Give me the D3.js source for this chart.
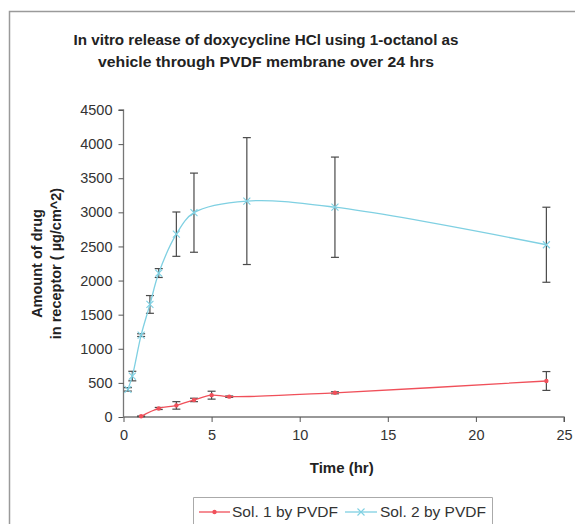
<!DOCTYPE html>
<html>
<head>
<meta charset="utf-8">
<script src="https://cdn.jsdelivr.net/npm/d3@7"></script>
<style>
  html, body { margin: 0; padding: 0; background: #fff; }
  svg { display: block; font-family: "Liberation Sans", Arial, sans-serif; }
</style>
</head>
<body>
<svg id="chart" width="575" height="524"></svg>
<script>
// Release data: time (hr), mean amount (µg/cm^2), standard deviation
const sol1Time = [1, 2, 3, 4, 5, 6, 12, 24];
const sol1Mean = [10, 125, 170, 250, 320, 298, 355, 528];
const sol1Err  = [5, 15, 55, 25, 58, 10, 15, 138];

const sol2Time = [0.25, 0.5, 1, 1.5, 2, 3, 4, 7, 12, 24];
const sol2Mean = [405, 600, 1200, 1650, 2110, 2680, 2995, 3165, 3075, 2525];
const sol2Err  = [25, 70, 20, 130, 65, 325, 580, 930, 735, 550];

const seriesNames = ["Sol. 1 by PVDF", "Sol. 2 by PVDF"];
const xTicks = [0, 5, 10, 15, 20, 25];
const yTicks = [0, 500, 1000, 1500, 2000, 2500, 3000, 3500, 4000, 4500];
const titleLines = [
  "In vitro release of doxycycline HCl using 1-octanol as",
  "vehicle through PVDF membrane over 24 hrs"
];
const yTitleLines = ["Amount of drug", "in receptor ( \u00b5g/cm^2)"];
const xTitle = "Time (hr)";

const svg = d3.select("#chart");
const plot = { left: 123.5, right: 564, top: 110, bottom: 417 };

const x = d3.scaleLinear().domain([0, 25]).range([plot.left, plot.right]);
const y = d3.scaleLinear().domain([0, 4500]).range([plot.bottom, plot.top]);

// outer chart frame (open to the right and bottom)
svg.append("path")
  .attr("d", "M9.5,524 V11.5 H575")
  .attr("fill", "none")
  .attr("stroke", "#9a9a9a")
  .attr("stroke-width", 1.5);

// title
svg.append("g").selectAll("text").data(titleLines).join("text")
  .attr("x", 266)
  .attr("y", (d, i) => 45 + i * 22)
  .attr("text-anchor", "middle")
  .attr("font-size", 15)
  .attr("font-weight", "bold")
  .attr("fill", "#222")
  .attr("textLength", (d, i) => i === 0 ? 385 : 336)
  .attr("lengthAdjust", "spacingAndGlyphs")
  .text(d => d);

// axes
const yAxis = svg.append("g")
  .attr("transform", `translate(${plot.left},0)`)
  .call(d3.axisLeft(y).tickValues(yTicks).tickSize(5).tickPadding(6).tickFormat(d3.format("d")));
const xAxis = svg.append("g")
  .attr("transform", `translate(0,${plot.bottom})`)
  .call(d3.axisBottom(x).tickValues(xTicks).tickSize(5).tickPadding(8).tickFormat(d3.format("d")));

[yAxis, xAxis].forEach(g => {
  g.select(".domain").attr("stroke", "#777").attr("stroke-width", 1.3);
  g.selectAll(".tick line").attr("stroke", "#555");
  g.selectAll(".tick text")
    .attr("font-size", 14.5)
    .attr("fill", "#333")
    .attr("font-family", "Liberation Sans, Arial, sans-serif");
});
yAxis.select(".domain").attr("d", `M-5,${plot.top}H0V${plot.bottom}`);
xAxis.select(".domain").attr("d", `M${plot.left},0H${plot.right}V5`);

// axis titles
svg.append("text")
  .attr("x", x(12.5) - 2)
  .attr("y", 473)
  .attr("text-anchor", "middle")
  .attr("font-size", 15)
  .attr("font-weight", "bold")
  .attr("fill", "#222")
  .text(xTitle);

svg.append("g")
  .attr("transform", `translate(0,${(plot.top + plot.bottom) / 2}) rotate(-90)`)
  .selectAll("text").data(yTitleLines).join("text")
  .attr("x", 0)
  .attr("y", (d, i) => 42 + i * 19)
  .attr("text-anchor", "middle")
  .attr("font-size", 14.5)
  .attr("font-weight", "bold")
  .attr("fill", "#222")
  .text(d => d);

// series
const series = [
  { name: seriesNames[0], t: sol1Time, m: sol1Mean, e: sol1Err, color: "#f0505a", marker: "dot" },
  { name: seriesNames[1], t: sol2Time, m: sol2Mean, e: sol2Err, color: "#7fd0e2", marker: "x" }
];

const line = d3.line().x(d => x(d.t)).y(d => y(d.m)).curve(d3.curveCatmullRom.alpha(0.5));

function drawMarker(g, type, color) {
  if (type === "dot") {
    g.append("circle").attr("r", 2.2).attr("fill", color);
  } else {
    g.append("path").attr("d", "M-3.5,-3.5L3.5,3.5M-3.5,3.5L3.5,-3.5")
      .attr("stroke", color).attr("stroke-width", 1.1).attr("fill", "none");
  }
}

series.forEach(s => {
  const pts = s.t.map((t, i) => ({ t, m: s.m[i], e: s.e[i] }));
  const g = svg.append("g");

  // error bars
  const eb = g.selectAll("g.err").data(pts).join("g").attr("class", "err")
    .attr("stroke", "#4a4a4a").attr("stroke-width", 1.2);
  eb.append("line")
    .attr("x1", d => x(d.t)).attr("x2", d => x(d.t))
    .attr("y1", d => y(d.m - d.e)).attr("y2", d => y(d.m + d.e));
  eb.append("line")
    .attr("x1", d => x(d.t) - 4).attr("x2", d => x(d.t) + 4)
    .attr("y1", d => y(d.m + d.e)).attr("y2", d => y(d.m + d.e));
  eb.append("line")
    .attr("x1", d => x(d.t) - 4).attr("x2", d => x(d.t) + 4)
    .attr("y1", d => y(d.m - d.e)).attr("y2", d => y(d.m - d.e));

  g.append("path").datum(pts)
    .attr("d", line)
    .attr("fill", "none")
    .attr("stroke", s.color)
    .attr("stroke-width", 1.3);

  g.selectAll("g.mk").data(pts).join("g").attr("class", "mk")
    .attr("transform", d => `translate(${x(d.t)},${y(d.m)})`)
    .each(function () { drawMarker(d3.select(this), s.marker, s.color); });
});

// legend
const legend = svg.append("g");
legend.append("path")
  .attr("d", "M193.5,524 V497.5 H492.5 V524")
  .attr("fill", "#fff")
  .attr("stroke", "#aaa")
  .attr("stroke-width", 1);

const legendItems = [
  { s: series[0], x0: 199, x1: 230, tx: 232 },
  { s: series[1], x0: 345, x1: 377, tx: 380 }
];
legendItems.forEach(item => {
  const ly = 512;
  legend.append("line")
    .attr("x1", item.x0).attr("x2", item.x1)
    .attr("y1", ly).attr("y2", ly)
    .attr("stroke", item.s.color).attr("stroke-width", 1.3);
  const mk = legend.append("g").attr("transform", `translate(${(item.x0 + item.x1) / 2},${ly})`);
  drawMarker(mk, item.s.marker, item.s.color);
  legend.append("text")
    .attr("x", item.tx).attr("y", ly + 5)
    .attr("font-size", 15.5)
    .attr("fill", "#333")
    .text(item.s.name);
});
</script>
</body>
</html>
